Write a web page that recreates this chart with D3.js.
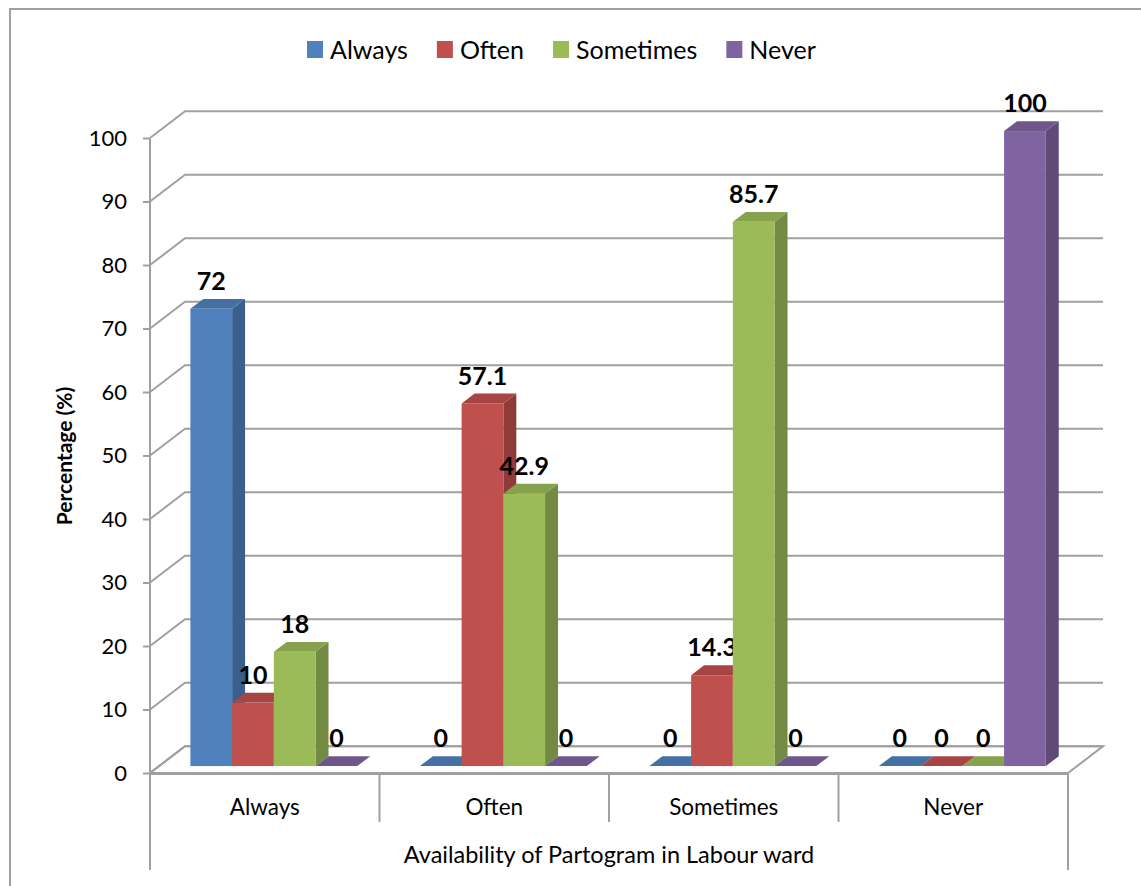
<!DOCTYPE html>
<html>
<head>
<meta charset="utf-8">
<script src="https://cdn.jsdelivr.net/npm/d3@7"></script>
<style>
  body { margin: 0; background: #fff; }
  svg { display: block; font-family: Lato, 'Open Sans', sans-serif; }
</style>
</head>
<body>
<svg id="chart" width="1141" height="886"></svg>
<script>
// Availability of partogram chart

const categories = ['Always', 'Often', 'Sometimes', 'Never']
const seriesNames = ['Always', 'Often', 'Sometimes', 'Never']
const seriesColors = ['#4f81bd', '#c0504d', '#9bbb59', '#8064a2']
// values[series][category]
const alwaysValues = [72, 0, 0, 0]
const oftenValues = [10, 57.1, 14.3, 0]
const sometimesValues = [18, 42.9, 85.7, 0]
const neverValues = [0, 0, 0, 100]
const yTicks = [0, 10, 20, 30, 40, 50, 60, 70, 80, 90, 100]

const values = [alwaysValues, oftenValues, sometimesValues, neverValues]

const DX = 35
const DY = 26.7
const F1 = 0.26
const F2 = 0.63
const GRID = '#a0a0a0'

const svg = d3.select('#chart')

svg.append('rect')
  .attr('x', 10).attr('y', 9).attr('width', 1160).attr('height', 900)
  .attr('fill', 'none').attr('stroke', '#a0a0a0').attr('stroke-width', 2)

const y = d3.scaleLinear().domain([0, 100]).range([773, 138])
const x0 = d3.scaleBand().domain(categories).range([150, 1068])
const gap = x0.bandwidth() * 1.5 / 5.5
const x1 = d3.scaleBand().domain(seriesNames).range([gap / 2, x0.bandwidth() - gap / 2])

const xLeft = x0.range()[0]
const xRight = x0.range()[1]

// floor
const y0 = y(0)
svg.append('path')
  .attr('d', `M${xLeft},${y0}L${xRight},${y0}L${xRight + DX},${y0 - DY}L${xLeft + DX},${y0 - DY}Z`)
  .attr('fill', '#fff').attr('stroke', GRID).attr('stroke-width', 2)

// back wall gridlines
svg.append('g').selectAll('path')
  .data(yTicks)
  .join('path')
  .attr('d', t => `M${xLeft},${y(t)}L${xLeft + DX},${y(t) - DY}L${xRight + DX},${y(t) - DY}`)
  .attr('fill', 'none').attr('stroke', GRID).attr('stroke-width', 2)

// y axis
const yAxis = svg.append('g').attr('transform', `translate(${xLeft},0)`)
  .call(d3.axisLeft(y).tickValues(yTicks).tickSize(7).tickPadding(16))
yAxis.select('.domain').remove()
yAxis.selectAll('line').attr('stroke', GRID).attr('stroke-width', 2)
yAxis.selectAll('text').attr('font-size', 22).attr('fill', '#000')
  .attr('font-family', 'Lato, sans-serif')

svg.append('line')
  .attr('x1', xLeft).attr('x2', xLeft).attr('y1', y(100)).attr('y2', 870)
  .attr('stroke', GRID).attr('stroke-width', 2)

// category dividers
svg.append('g').selectAll('line')
  .data(categories.slice(1))
  .join('line')
  .attr('x1', d => x0(d)).attr('x2', d => x0(d))
  .attr('y1', y0).attr('y2', 822)
  .attr('stroke', GRID).attr('stroke-width', 2)
svg.append('line')
  .attr('x1', xRight).attr('x2', xRight).attr('y1', y0).attr('y2', 870)
  .attr('stroke', GRID).attr('stroke-width', 2)

svg.append('line')
  .attr('x1', xLeft).attr('x2', xRight).attr('y1', y0 + 1).attr('y2', y0 + 1)
  .attr('stroke', GRID).attr('stroke-width', 2)

// bars
const bars = []
categories.forEach((c, ci) => {
  seriesNames.forEach((s, si) => {
    bars.push({ cat: c, series: s, si, v: values[si][ci] })
  })
})

const barG = svg.append('g')
bars.forEach(b => {
  const col = d3.color(seriesColors[b.si])
  const x = x0(b.cat) + x1(b.series)
  const w = x1.bandwidth()
  const yv = y(b.v)
  const a1 = DX * F1; const b1 = DY * F1
  const a2 = DX * F2; const b2 = DY * F2
  const g = barG.append('g')
  if (b.v > 0) {
    g.append('path')
      .attr('d', `M${x + w + a1},${yv - b1}L${x + w + a2},${yv - b2}L${x + w + a2},${y0 - b2}L${x + w + a1},${y0 - b1}Z`)
      .attr('fill', col.darker(0.85))
    g.append('rect')
      .attr('x', x + a1).attr('y', yv - b1).attr('width', w).attr('height', y0 - yv)
      .attr('fill', col)
  }
  g.append('path')
    .attr('d', `M${x + a1},${yv - b1}L${x + w + a1},${yv - b1}L${x + w + a2},${yv - b2}L${x + a2},${yv - b2}Z`)
    .attr('fill', col.darker(0.4))
  g.append('text')
    .attr('x', x + a1 + w / 2)
    .attr('y', yv - b2 - 9)
    .attr('text-anchor', 'middle')
    .attr('font-size', 25).attr('font-weight', 'bold')
    .text(b.v)
})

// category labels
svg.append('g').selectAll('text')
  .data(categories)
  .join('text')
  .attr('x', d => x0(d) + x0.bandwidth() / 2)
  .attr('y', 807)
  .attr('dy', '0.35em')
  .attr('text-anchor', 'middle')
  .attr('font-size', 22.5)
  .text(d => d)

svg.append('text')
  .attr('x', (xLeft + xRight) / 2).attr('y', 855).attr('dy', '0.35em')
  .attr('text-anchor', 'middle').attr('font-size', 23.5)
  .text('Availability of Partogram in Labour ward')

svg.append('text')
  .attr('transform', 'translate(65,456) rotate(-90)')
  .attr('dy', '0.35em')
  .attr('text-anchor', 'middle').attr('font-size', 21).attr('font-weight', 'bold')
  .text('Percentage (%)')

// legend
const legend = svg.append('g')
let lx = 307
seriesNames.forEach((s, i) => {
  legend.append('rect')
    .attr('x', lx).attr('y', 41).attr('width', 16).attr('height', 17)
    .attr('fill', seriesColors[i])
  const t = legend.append('text')
    .attr('x', lx + 23).attr('y', 50).attr('dy', '0.35em')
    .attr('font-size', 25)
    .text(s)
  lx += 23 + t.node().getComputedTextLength() + 29
})
</script>
</body>
</html>
